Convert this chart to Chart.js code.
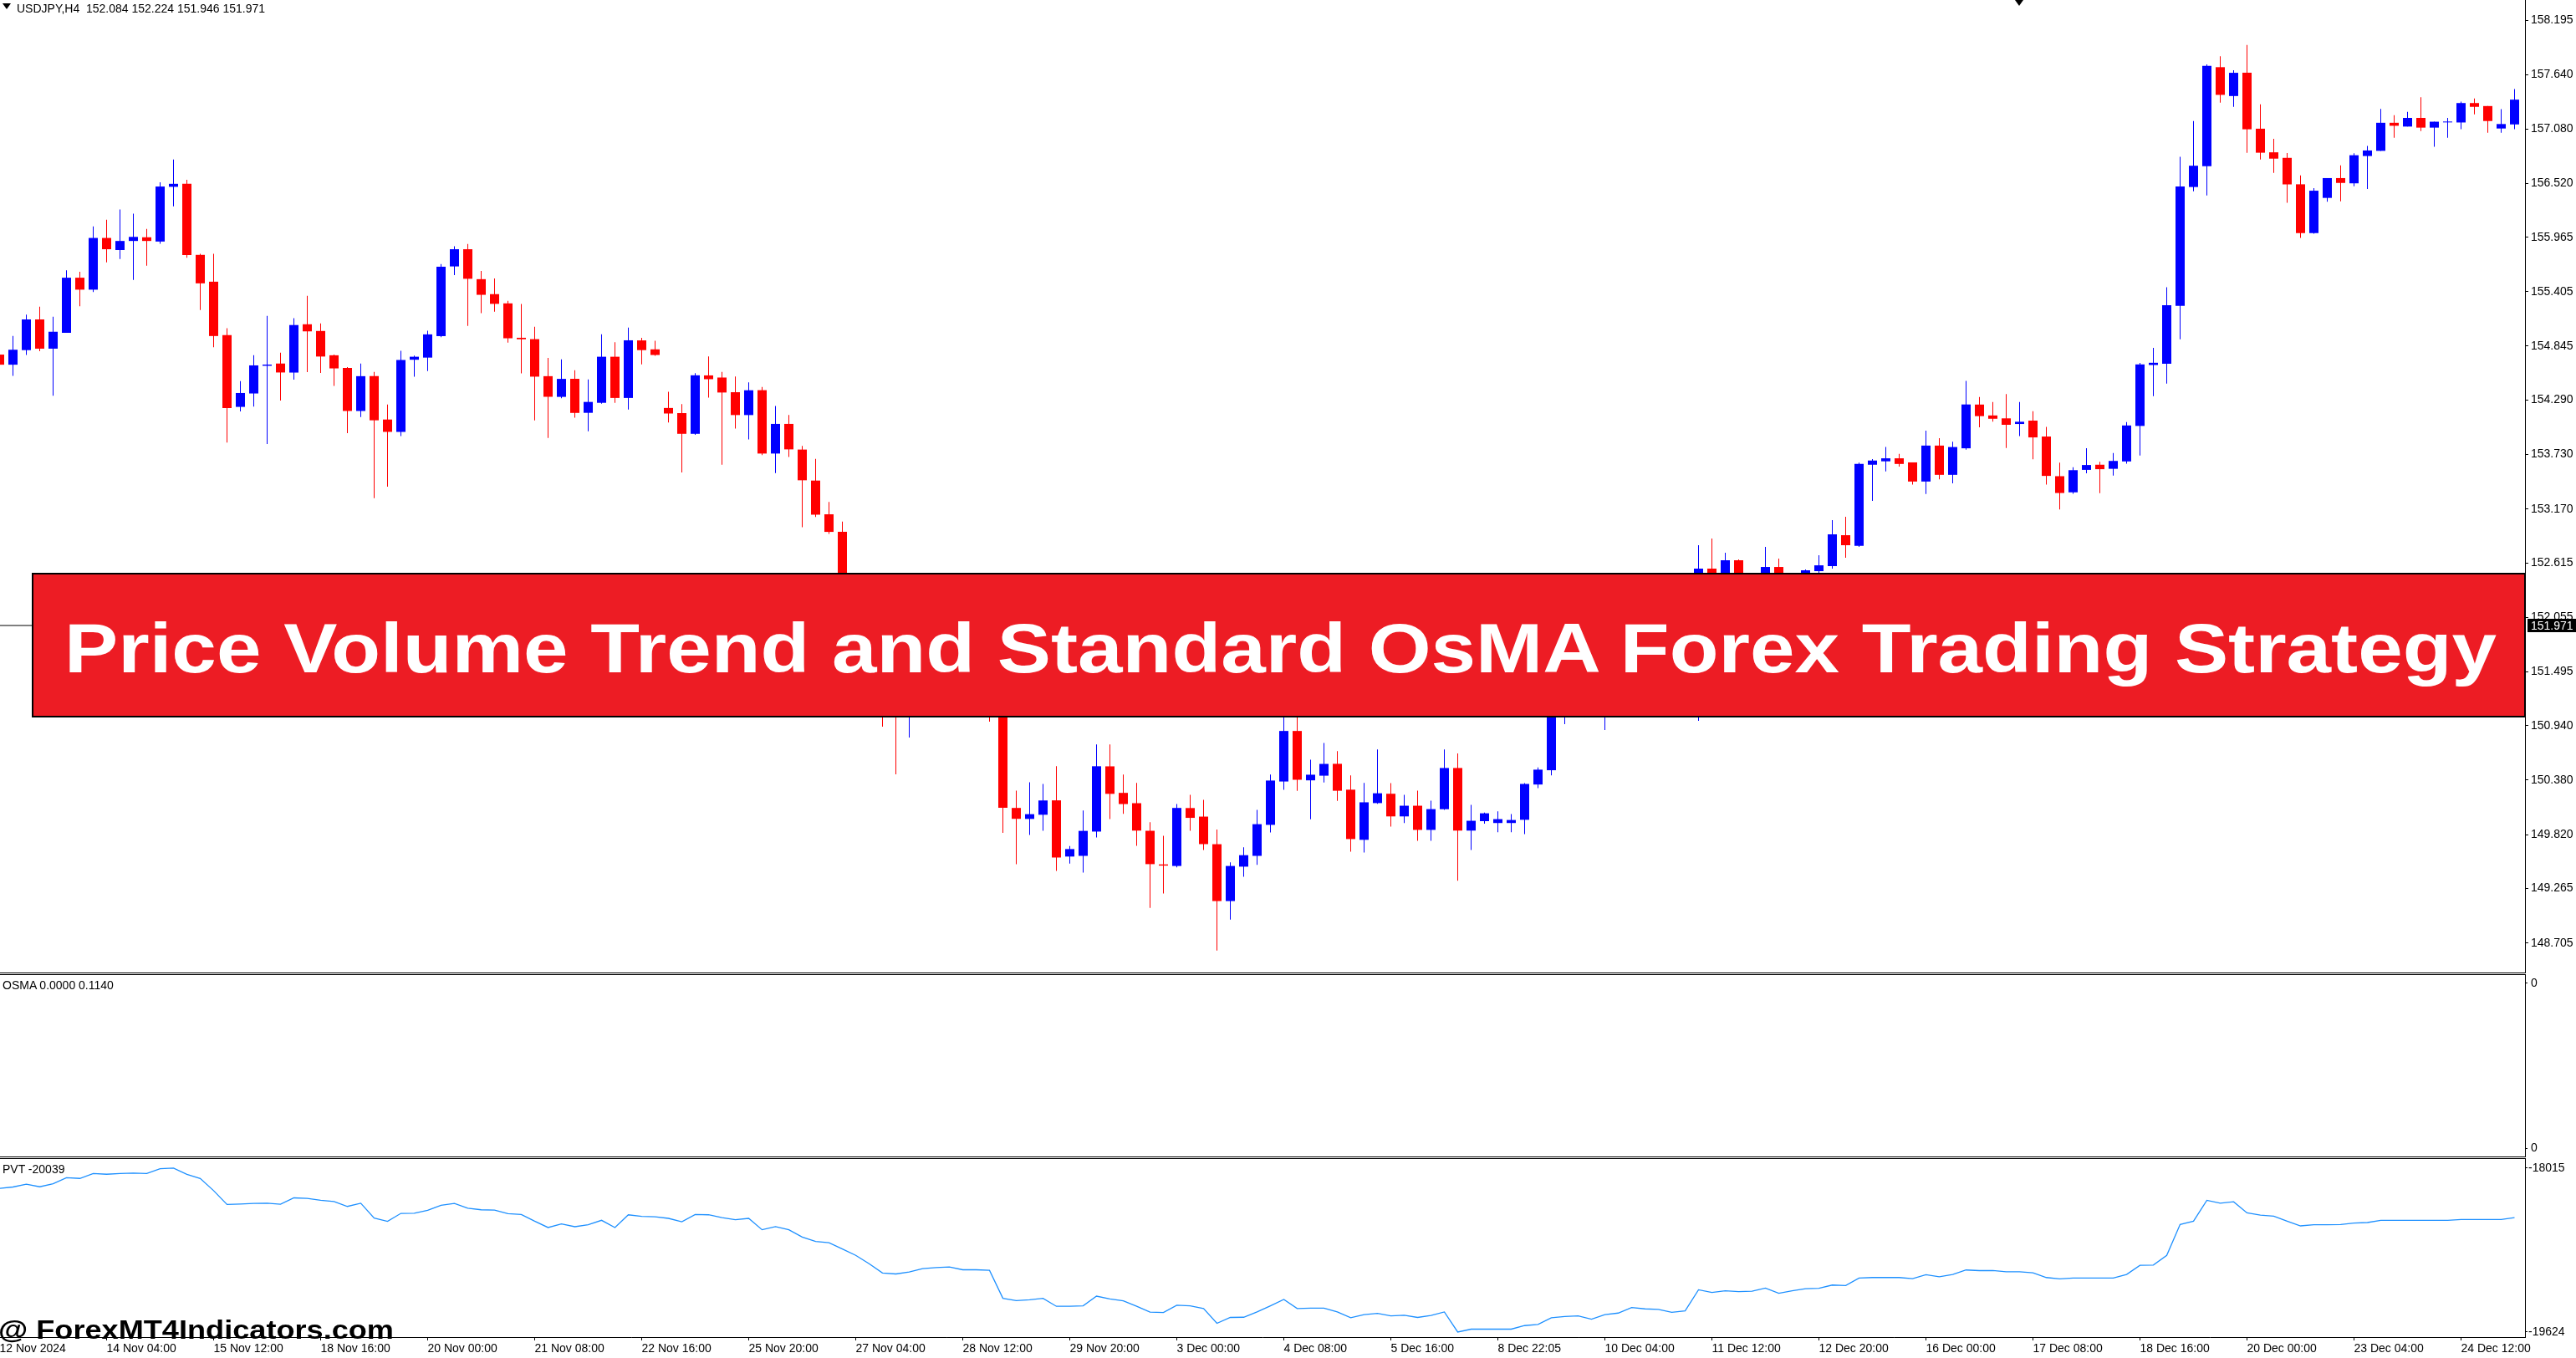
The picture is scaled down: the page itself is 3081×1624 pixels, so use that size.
<!DOCTYPE html>
<html>
<head>
<meta charset="utf-8">
<title>USDJPY H4 - Price Volume Trend and Standard OsMA</title>
<script src="https://cdn.jsdelivr.net/npm/chart.js@4.4.1/dist/chart.umd.min.js"></script>
<style>
  html, body { margin: 0; padding: 0; background: #fff; }
  body { width: 3081px; height: 1624px; position: relative; overflow: hidden; font-family: "Liberation Sans", Arial, sans-serif; }
  canvas { position: absolute; left: 0; }
  .sep { position: absolute; left: 0; width: 3021px; height: 1px; background: #000; }
  .txt { position: absolute; white-space: nowrap; font-size: 14px; line-height: 14px; color: #000; }
  .tri { position: absolute; width: 0; height: 0; border-left: 5px solid transparent; border-right: 5px solid transparent; border-top: 7px solid #000; }
  #banner { position: absolute; left: 38px; top: 685px; width: 2983px; height: 173px; box-sizing: border-box; background: #ed1c24; border: 2px solid #000; z-index: 5; }
  #bannerText { position: absolute; left: 77px; top: 733px; font-weight: bold; font-size: 84px; line-height: 84px; color: #fff; white-space: nowrap; transform-origin: 0 0; z-index: 6; }
  #mark { position: absolute; left: -2px; top: 1574px; font-weight: bold; font-size: 32px; line-height: 32px; color: #000; white-space: nowrap; transform-origin: 0 0; z-index: 6; }
</style>
</head>
<body>
<canvas id="main" width="3081" height="1163" style="top:0"></canvas>
<div class="sep" style="top:1163px"></div>
<div class="sep" style="top:1165px"></div>
<canvas id="osma" width="3081" height="217" style="top:1166px"></canvas>
<div class="sep" style="top:1383px"></div>
<div class="sep" style="top:1385px"></div>
<canvas id="pvt" width="3081" height="238" style="top:1386px"></canvas>

<div class="tri" style="left:3px;top:4px"></div>
<div class="txt" style="left:20px;top:3px">USDJPY,H4&nbsp; 152.084 152.224 151.946 151.971</div>
<div class="tri" style="left:2410px;top:0"></div>
<div class="txt" style="left:3px;top:1171px">OSMA 0.0000 0.1140</div>
<div class="txt" style="left:3px;top:1391px">PVT -20039</div>

<div id="banner"></div>
<span id="bannerText">Price Volume Trend and Standard OsMA Forex Trading Strategy</span>
<span id="mark">@ ForexMT4Indicators.com</span>

<script>
// USDJPY H4 candles, index 0 = left edge of the window
const openP = [
  154.758, 154.654, 154.804, 155.120, 154.819, 154.982, 155.549, 155.426, 155.958, 155.834,
  155.927, 155.965, 155.921, 156.484, 156.515, 155.784, 155.508, 154.959, 154.220, 154.358,
  154.643, 154.666, 154.573, 155.070, 155.001, 154.751, 154.621, 154.178, 154.537, 154.090,
  153.962, 154.705, 154.727, 154.948, 155.665, 155.842, 155.534, 155.380, 155.285, 154.931,
  154.917, 154.536, 154.323, 154.509, 154.159, 154.262, 154.736, 154.312, 154.904, 154.812,
  154.209, 154.156, 153.943, 154.544, 154.522, 154.371, 154.136, 154.392, 153.740, 154.045,
  153.781, 153.462, 153.115, 152.935, 152.400, 152.000, 151.550, 151.100, 151.025, 151.200,
  151.450, 151.550, 151.600, 151.400, 151.420, 151.380, 150.094, 149.981, 150.024, 150.172,
  149.594, 149.601, 149.851, 150.522, 150.249, 150.143, 149.859, 149.513, 149.497, 150.093,
  150.005, 149.721, 149.136, 149.490, 149.601, 149.920, 150.366, 150.886, 150.378, 150.426,
  150.548, 150.282, 149.766, 150.144, 150.240, 150.007, 150.117, 149.868, 150.081, 150.505,
  149.861, 149.958, 149.939, 149.939, 149.972, 150.335, 150.482, 151.025, 151.200, 151.260,
  151.030, 151.350, 151.450, 151.750, 151.650, 151.600, 151.400, 151.500, 152.556, 152.380,
  152.642, 152.400, 152.400, 152.573, 152.320, 152.420, 152.530, 152.582, 152.900, 152.790,
  153.625, 153.660, 153.691, 153.649, 153.452, 153.822, 153.521, 153.794, 154.244, 154.132,
  154.102, 154.044, 154.079, 153.915, 153.507, 153.341, 153.572, 153.625, 153.583, 153.659,
  154.024, 154.651, 154.664, 155.259, 156.482, 156.696, 157.715, 157.418, 157.658, 157.082,
  156.839, 156.782, 156.510, 156.008, 156.370, 156.574, 156.520, 156.801, 156.854, 157.143,
  157.104, 157.193, 157.093, 157.147, 157.146, 157.346, 157.315, 157.084, 157.126
];
const highP = [
  154.777, 154.950, 155.170, 155.251, 155.147, 155.626, 155.611, 156.077, 156.146, 156.250,
  156.208, 156.050, 156.530, 156.765, 156.557, 155.796, 155.794, 155.029, 154.486, 154.751,
  155.156, 154.778, 155.132, 155.363, 155.078, 154.759, 154.629, 154.667, 154.580, 154.244,
  154.798, 154.747, 155.004, 155.689, 155.873, 155.896, 155.619, 155.542, 155.312, 155.278,
  155.044, 154.725, 154.709, 154.598, 154.503, 154.967, 154.886, 155.036, 154.931, 154.900,
  154.375, 154.248, 154.568, 154.740, 154.580, 154.533, 154.472, 154.426, 154.230, 154.137,
  153.819, 153.685, 153.242, 153.039, 152.460, 152.050, 151.620, 151.250, 151.300, 151.550,
  151.700, 151.750, 151.700, 151.550, 151.550, 151.450, 150.273, 150.359, 150.341, 150.524,
  149.703, 150.068, 150.748, 150.747, 150.437, 150.351, 149.948, 149.807, 150.135, 150.229,
  150.178, 149.871, 149.534, 149.689, 150.074, 150.437, 151.100, 151.120, 150.591, 150.763,
  150.678, 150.429, 150.351, 150.695, 150.350, 150.229, 150.272, 150.168, 150.695, 150.655,
  150.126, 150.047, 150.060, 150.031, 150.350, 150.511, 151.070, 151.300, 151.400, 151.350,
  151.450, 151.600, 151.900, 151.850, 151.800, 151.700, 151.650, 152.797, 152.866, 152.720,
  152.651, 152.470, 152.780, 152.659, 152.470, 152.547, 152.694, 153.055, 153.089, 153.646,
  153.683, 153.807, 153.737, 153.649, 153.976, 153.899, 153.861, 154.488, 154.321, 154.271,
  154.352, 154.271, 154.176, 154.015, 153.646, 153.600, 153.795, 153.656, 153.745, 154.064,
  154.672, 154.828, 155.451, 156.793, 157.160, 157.744, 157.827, 157.684, 157.944, 157.333,
  156.978, 156.832, 156.602, 156.471, 156.574, 156.705, 156.829, 156.905, 157.285, 157.220,
  157.255, 157.405, 157.154, 157.193, 157.361, 157.392, 157.315, 157.284, 157.489
];
const lowP = [
  154.623, 154.538, 154.754, 154.792, 154.334, 154.982, 155.256, 155.402, 155.707, 155.742,
  155.526, 155.672, 155.898, 156.283, 155.755, 155.217, 154.834, 153.853, 154.174, 154.223,
  153.837, 154.285, 154.500, 154.577, 154.569, 154.435, 153.950, 154.116, 153.280, 153.400,
  153.919, 154.531, 154.588, 154.937, 155.576, 155.053, 155.184, 155.199, 154.880, 154.565,
  154.080, 153.900, 154.308, 154.108, 153.970, 154.254, 154.262, 154.192, 154.657, 154.746,
  154.059, 153.546, 153.932, 154.316, 153.624, 153.997, 153.886, 153.725, 153.540, 153.705,
  152.983, 153.088, 152.914, 152.320, 151.920, 151.450, 150.930, 150.440, 150.818, 151.100,
  151.350, 151.450, 151.300, 151.300, 150.982, 149.838, 149.515, 149.817, 149.860, 149.446,
  149.522, 149.428, 149.791, 149.980, 150.033, 149.705, 149.066, 149.213, 149.483, 149.860,
  149.662, 148.626, 148.946, 149.386, 149.509, 149.843, 150.280, 150.271, 149.977, 150.357,
  150.167, 149.645, 149.636, 150.136, 149.903, 149.938, 149.756, 149.756, 150.075, 149.345,
  149.662, 149.932, 149.844, 149.844, 149.825, 150.297, 150.430, 150.956, 151.100, 151.030,
  150.896, 151.250, 151.400, 151.550, 151.500, 151.300, 151.350, 150.990, 152.300, 152.300,
  152.350, 152.250, 152.300, 152.200, 152.250, 152.350, 152.513, 152.556, 152.668, 152.779,
  153.252, 153.556, 153.606, 153.421, 153.325, 153.475, 153.433, 153.779, 154.009, 154.067,
  153.797, 153.920, 153.682, 153.421, 153.164, 153.326, 153.537, 153.333, 153.514, 153.636,
  153.720, 154.331, 154.460, 154.916, 156.439, 156.395, 157.349, 157.306, 156.833, 156.766,
  156.627, 156.320, 155.958, 156.001, 156.331, 156.335, 156.489, 156.461, 156.854, 156.989,
  157.104, 157.058, 156.896, 156.989, 157.076, 157.230, 157.041, 157.041, 157.076
];
const closeP = [
  154.654, 154.808, 155.120, 154.819, 154.993, 155.549, 155.426, 155.958, 155.842, 155.927,
  155.969, 155.927, 156.487, 156.515, 155.782, 155.491, 154.949, 154.207, 154.363, 154.647,
  154.655, 154.574, 155.062, 154.997, 154.738, 154.616, 154.178, 154.536, 154.082, 153.963,
  154.702, 154.736, 154.966, 155.662, 155.842, 155.538, 155.373, 155.280, 154.926, 154.916,
  154.531, 154.324, 154.508, 154.158, 154.271, 154.736, 154.312, 154.905, 154.804, 154.754,
  154.152, 153.943, 154.545, 154.505, 154.368, 154.136, 154.391, 153.740, 154.045, 153.783,
  153.465, 153.111, 152.934, 152.400, 152.000, 151.550, 151.100, 151.025, 151.200, 151.450,
  151.550, 151.600, 151.400, 151.420, 151.380, 150.096, 149.982, 150.030, 150.171, 149.584,
  149.671, 149.858, 150.523, 150.239, 150.134, 149.861, 149.516, 149.501, 150.094, 149.992,
  149.722, 149.136, 149.497, 149.608, 149.927, 150.376, 150.886, 150.384, 150.436, 150.547,
  150.271, 149.774, 150.152, 150.245, 150.007, 150.117, 149.868, 150.082, 150.505, 149.861,
  149.962, 150.039, 149.979, 149.970, 150.341, 150.488, 151.025, 151.200, 151.260, 151.030,
  151.350, 151.450, 151.750, 151.650, 151.600, 151.400, 151.500, 152.556, 152.380, 152.642,
  152.450, 152.440, 152.573, 152.320, 152.420, 152.539, 152.590, 152.909, 152.797, 153.634,
  153.668, 153.691, 153.633, 153.452, 153.822, 153.521, 153.807, 154.245, 154.125, 154.098,
  154.036, 154.067, 153.906, 153.510, 153.334, 153.569, 153.622, 153.579, 153.664, 154.029,
  154.657, 154.674, 155.266, 156.488, 156.701, 157.729, 157.430, 157.657, 157.076, 156.835,
  156.774, 156.509, 156.008, 156.444, 156.574, 156.524, 156.809, 156.858, 157.143, 157.112,
  157.193, 157.093, 157.154, 157.154, 157.346, 157.307, 157.161, 157.130, 157.381
];
// Price Volume Trend, one value per candle
const pvt = [
  -18214, -18200, -18173, -18198, -18168, -18108, -18116, -18067, -18075, -18067,
  -18064, -18067, -18021, -18015, -18075, -18116, -18236, -18372, -18367, -18361,
  -18359, -18370, -18307, -18312, -18331, -18342, -18391, -18359, -18506, -18538,
  -18459, -18457, -18429, -18380, -18361, -18408, -18424, -18427, -18462, -18470,
  -18536, -18598, -18563, -18590, -18571, -18527, -18598, -18473, -18489, -18492,
  -18508, -18541, -18470, -18473, -18500, -18522, -18508, -18620, -18590, -18620,
  -18691, -18735, -18748, -18808, -18871, -18953, -19045, -19054, -19034, -19002,
  -18991, -18985, -19013, -19013, -19018, -19293, -19315, -19307, -19293, -19372,
  -19372, -19367, -19272, -19299, -19318, -19372, -19429, -19432, -19361, -19367,
  -19394, -19539, -19481, -19479, -19427, -19367, -19304, -19394, -19389, -19389,
  -19427, -19484, -19454, -19441, -19465, -19460, -19481, -19462, -19427, -19624,
  -19596, -19596, -19596, -19596, -19561, -19550, -19484, -19471, -19465, -19498,
  -19454, -19438, -19383, -19397, -19402, -19430, -19416, -19209, -19236, -19220,
  -19228, -19223, -19193, -19244, -19220, -19198, -19195, -19163, -19168, -19094,
  -19089, -19089, -19089, -19100, -19062, -19081, -19059, -19015, -19021, -19021,
  -19032, -19032, -19043, -19089, -19103, -19094, -19094, -19094, -19094, -19059,
  -18969, -18966, -18871, -18568, -18536, -18331, -18359, -18345, -18454, -18476,
  -18487, -18536, -18582, -18571, -18571, -18568, -18555, -18549, -18527, -18527,
  -18527, -18527, -18527, -18527, -18519, -18519, -18519, -18519, -18500
];
const osmaHist = [];   // OsMA shows no bars in this window

const priceTicks = [158.195, 157.640, 157.080, 156.520, 155.965, 155.405, 154.845, 154.290, 153.730,
  153.170, 152.615, 152.055, 151.495, 150.940, 150.380, 149.820, 149.265, 148.705];
const pvtTicks = [-18015, -19624];
const osmaTicks = [0.091, -0.091];
const bidPrice = 151.971;
const dateTicks = [0, 8, 16, 24, 32, 40, 48, 56, 64, 72, 80, 88, 96, 104, 112, 120, 128, 136, 144, 152, 160, 168, 176, 184];
const dateLabels = ['12 Nov 2024', '14 Nov 04:00', '15 Nov 12:00', '18 Nov 16:00', '20 Nov 00:00', '21 Nov 08:00',
  '22 Nov 16:00', '25 Nov 20:00', '27 Nov 04:00', '28 Nov 12:00', '29 Nov 20:00', '3 Dec 00:00', '4 Dec 08:00',
  '5 Dec 16:00', '8 Dec 22:05', '10 Dec 04:00', '11 Dec 12:00', '12 Dec 20:00', '16 Dec 00:00', '17 Dec 08:00',
  '18 Dec 16:00', '20 Dec 00:00', '23 Dec 04:00', '24 Dec 12:00'];

// visible window: 16 px per candle, 3020 px of plot
const xMin = 0.03125, xMax = 188.78125;

Chart.defaults.font.family = '"Liberation Sans", Arial, sans-serif';
Chart.defaults.font.size = 14;
Chart.defaults.color = '#000';

const idx = openP.map((v, i) => i);
const candleColor = idx.map(i => closeP[i] >= openP[i] ? '#0000ff' : '#ff0000');

function rightAxis(min, max, ticks, fmt, tickLen, pad) {
  return {
    position: 'right', min: min, max: max,
    afterBuildTicks: s => { s.ticks = ticks.map(v => ({ value: v })); },
    afterFit: s => { s.width = 61; s.paddingTop = 0; s.paddingBottom = 0; },
    ticks: { callback: fmt, autoSkip: false, padding: pad, color: '#000' },
    grid: { drawOnChartArea: false, drawTicks: true, tickLength: tickLen, color: '#000' },
    border: { display: true, color: '#000', width: 1 }
  };
}
const hiddenX = { type: 'linear', min: xMin, max: xMax, display: false, offset: false };
const quiet = { legend: { display: false }, tooltip: { enabled: false } };

const bidLabel = {
  id: 'bidLabel',
  afterDraw(chart) {
    const ctx = chart.ctx;
    const y = Math.round(chart.scales.y.getPixelForValue(bidPrice));
    ctx.save();
    ctx.fillStyle = '#000';
    ctx.fillRect(3023, y - 8, 58, 16);
    ctx.fillStyle = '#fff';
    ctx.font = '14px "Liberation Sans", Arial, sans-serif';
    ctx.textBaseline = 'middle';
    ctx.fillText(bidPrice.toFixed(3), 3027, y + 1);
    ctx.restore();
  }
};

new Chart(document.getElementById('main'), {
  type: 'bar',
  data: {
    datasets: [
      { type: 'line', data: [{ x: xMin, y: bidPrice }, { x: xMax, y: bidPrice }], borderColor: '#000', borderWidth: 1, pointRadius: 0, order: 3 },
      { data: idx.map(i => ({ x: i, y: [lowP[i], highP[i]] })), backgroundColor: candleColor, barThickness: 1, grouped: false, inflateAmount: 0, order: 2 },
      { data: idx.map(i => ({ x: i, y: [openP[i], closeP[i]] })), backgroundColor: candleColor, barThickness: 11, grouped: false, inflateAmount: 0, minBarLength: 1, order: 1 }
    ]
  },
  options: {
    responsive: false, animation: false, devicePixelRatio: 1,
    layout: { padding: 0 },
    plugins: quiet,
    scales: {
      x: hiddenX,
      y: rightAxis(148.401, 158.406, priceTicks, v => v.toFixed(3), 4, 3)
    }
  },
  plugins: [bidLabel]
});

new Chart(document.getElementById('osma'), {
  type: 'bar',
  data: { datasets: [{ data: osmaHist }] },
  options: {
    responsive: false, animation: false, devicePixelRatio: 1,
    layout: { padding: 0 },
    plugins: quiet,
    scales: {
      x: hiddenX,
      y: rightAxis(-0.1, 0.1, osmaTicks, v => String(Math.round(v) + 0), 3, 4)
    }
  }
});

new Chart(document.getElementById('pvt'), {
  type: 'line',
  data: {
    datasets: [{ data: idx.map(i => ({ x: i, y: pvt[i] })), borderColor: '#1e90ff', borderWidth: 1.3, pointRadius: 0, tension: 0 }]
  },
  options: {
    responsive: false, animation: false, devicePixelRatio: 1,
    layout: { padding: 0 },
    plugins: quiet,
    scales: {
      x: {
        type: 'linear', min: xMin, max: xMax, offset: false, position: 'bottom',
        afterBuildTicks: s => { s.ticks = dateTicks.map(v => ({ value: v })); },
        afterFit: s => { s.height = 25; s.paddingLeft = 0; s.paddingRight = 0; },
        ticks: { callback: v => dateLabels[dateTicks.indexOf(v)], autoSkip: false, maxRotation: 0, align: 'start', padding: 2, color: '#000' },
        grid: { drawOnChartArea: false, drawTicks: true, tickLength: 4, color: '#000' },
        border: { display: true, color: '#000', width: 1 }
      },
      y: rightAxis(-19674, -17925, pvtTicks, v => String(v), 3, 1)
    }
  }
});

// stretch the two overlay captions to the widths they take in the picture
function fitWidth(id, target) {
  const el = document.getElementById(id);
  const w = el.getBoundingClientRect().width;
  el.style.transform = 'scaleX(' + (target / w) + ')';
}
fitWidth('bannerText', 2909);
fitWidth('mark', 473);
</script>
</body>
</html>
